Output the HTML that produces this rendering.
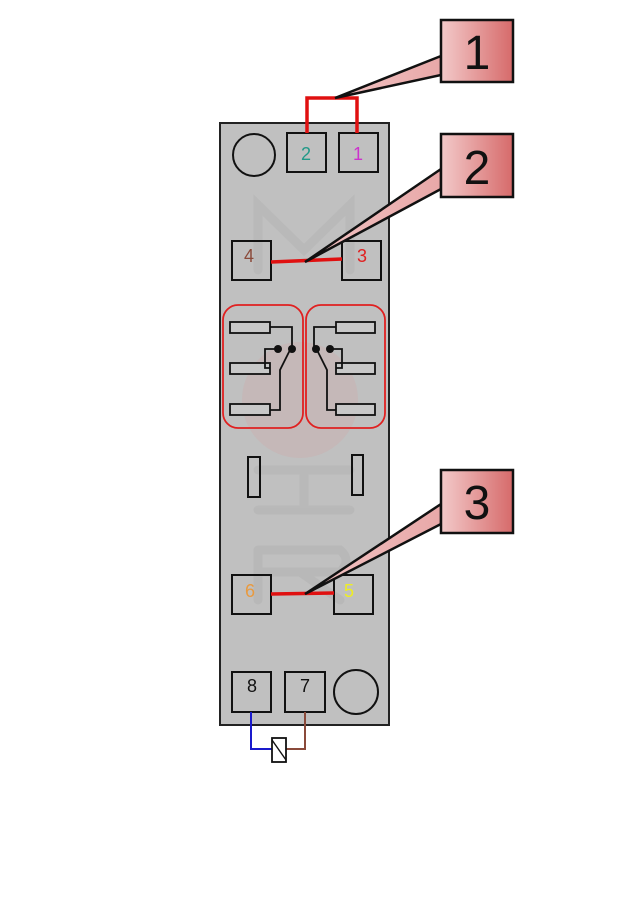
<!DOCTYPE html>
<html><head><meta charset="utf-8"><style>html,body{margin:0;padding:0;background:#fff}svg{display:block}</style></head>
<body>
<svg width="642" height="902" viewBox="0 0 642 902" xmlns="http://www.w3.org/2000/svg" font-family="Liberation Sans, sans-serif">
<defs>
<linearGradient id="g" x1="0" x2="1" y1="0" y2="0"><stop offset="0" stop-color="#f3caca"/><stop offset="1" stop-color="#d66a6a"/></linearGradient>
<linearGradient id="gp" x1="0" x2="1"><stop offset="0" stop-color="#f2c4c4"/><stop offset="1" stop-color="#e8a8a8"/></linearGradient>
</defs>
<rect x="220" y="123" width="169" height="602" fill="#c0c0c0" stroke="#222" stroke-width="2"/>
<!-- watermark -->
<circle cx="300" cy="400" r="58" fill="#cfa8a8" opacity="0.35"/>
<g fill="none" stroke="#b6b6b6" stroke-width="9" stroke-linecap="round" opacity="0.7">
<path d="M258 270 V205 L304 250 L350 205 V270"/>
<path d="M258 470 H350 M258 510 H350 M304 470 V510"/>
<path d="M258 550 V600 M258 550 H340 Q352 560 340 572 H258 M300 572 L340 600"/>
</g>
<circle cx="254" cy="155" r="21" fill="none" stroke="#111" stroke-width="2"/>
<circle cx="356" cy="692" r="22" fill="none" stroke="#111" stroke-width="2"/>
<g fill="none" stroke="#111" stroke-width="2">
<rect x="287" y="133" width="39" height="39"/><rect x="339" y="133" width="39" height="39"/>
<rect x="232" y="241" width="39" height="39"/><rect x="342" y="241" width="39" height="39"/>
<rect x="232" y="575" width="39" height="39"/><rect x="334" y="575" width="39" height="39"/>
<rect x="232" y="672" width="39" height="40"/><rect x="285" y="672" width="40" height="40"/>
<rect x="248" y="457" width="12" height="40"/><rect x="352" y="455" width="11" height="40"/>
</g>
<g font-size="18" text-anchor="middle">
<text x="306" y="160" fill="#229988">2</text><text x="358" y="160" fill="#cc33cc">1</text>
<text x="249" y="262" fill="#8a4a3a">4</text><text x="362" y="262" fill="#e02020">3</text>
<text x="250" y="597" fill="#e89a40">6</text><text x="349" y="597" fill="#eeee22">5</text>
<text x="252" y="692" fill="#111">8</text><text x="305" y="692" fill="#111">7</text>
</g>
<!-- relay blocks -->
<g fill="none" stroke="#e02020" stroke-width="1.8"><rect x="223" y="305" width="80" height="123" rx="15"/><rect x="306" y="305" width="79" height="123" rx="15"/></g>
<g fill="#c8c8c8" stroke="#111" stroke-width="1.8">
<rect x="230" y="322" width="40" height="11"/><rect x="230" y="363" width="40" height="11"/><rect x="230" y="404" width="40" height="11"/>
<rect x="336" y="322" width="39" height="11"/><rect x="336" y="363" width="39" height="11"/><rect x="336" y="404" width="39" height="11"/>
</g>
<g fill="none" stroke="#111" stroke-width="1.8">
<path d="M270 327 H292 V349"/><path d="M270 368 H265 V349 H278"/><path d="M270 410 H280 V370 L290 350"/>
<path d="M336 327 H314 V349"/><path d="M336 368 H342 V349 H330"/><path d="M336 410 H327 V370 L317 350"/>
</g>
<g fill="#111"><circle cx="278" cy="349" r="4"/><circle cx="292" cy="349" r="4"/><circle cx="316" cy="349" r="4"/><circle cx="330" cy="349" r="4"/></g>
<!-- red jumpers -->
<g fill="none" stroke="#e01010" stroke-width="3.5">
<path d="M307 133 V98 H357 V133"/><path d="M271 262 L342 259"/><path d="M271 594 L334 593"/>
</g>
<!-- coil -->
<path d="M251 712 V749 H272" fill="none" stroke="#1a1acc" stroke-width="2"/>
<path d="M305 712 V749 H286" fill="none" stroke="#8a4a3a" stroke-width="2"/>
<rect x="272" y="738" width="14" height="24" fill="#fff" stroke="#111" stroke-width="1.8"/>
<line x1="272" y1="740" x2="286" y2="760" stroke="#111" stroke-width="1.4"/>
<!-- callouts -->
<g stroke="#111" stroke-width="2.5" stroke-linejoin="miter">
<polygon points="441,56 335,98 441,75" fill="url(#gp)"/>
<polygon points="441,169 305,262 441,189" fill="url(#gp)"/>
<polygon points="441,504 305,594 441,524" fill="url(#gp)"/>
<rect x="441" y="20" width="72" height="62" fill="url(#g)"/>
<rect x="441" y="134" width="72" height="63" fill="url(#g)"/>
<rect x="441" y="470" width="72" height="63" fill="url(#g)"/>
</g>
<g font-size="48" text-anchor="middle" fill="#111">
<text x="477" y="69">1</text><text x="477" y="184">2</text><text x="477" y="519">3</text>
</g>
</svg>
</body></html>
